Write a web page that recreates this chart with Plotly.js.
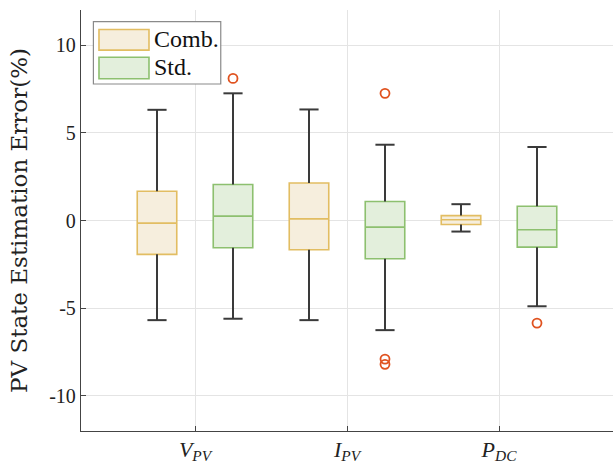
<!DOCTYPE html>
<html>
<head>
<meta charset="utf-8">
<script src="https://cdn.plot.ly/plotly-3.0.1.min.js"></script>
<style>html,body{margin:0;padding:0;background:#fff;}#chart{width:613px;height:463px;}</style>
</head>
<body>
<div id="chart"></div>
<script>
// Categories and tick labels
const categories = ["V_PV", "I_PV", "P_DC"];
const tickLabels = ["<i>V</i><sub><i>PV</i></sub>", "<i>I</i><sub><i>PV</i></sub>", "<i>P</i><sub><i>DC</i></sub>"];
const seriesNames = ["Comb.", "Std."];

// Comb. series statistics
const combLow    = [-5.68, -5.68, -0.63];
const combQ1     = [-1.93, -1.67, -0.23];
const combMedian = [-0.15,  0.09,  0.04];
const combQ3     = [ 1.67,  2.14,  0.28];
const combHigh   = [ 6.31,  6.33,  0.93];
const combOutliers = [[], [], []];

// Std. series statistics
const stdLow    = [-5.60, -6.25, -4.89];
const stdQ1     = [-1.55, -2.18, -1.52];
const stdMedian = [ 0.25, -0.38, -0.53];
const stdQ3     = [ 2.05,  1.08,  0.81];
const stdHigh   = [ 7.25,  4.32,  4.19];
const stdOutliers = [[8.1], [7.25, -7.9, -8.2], [-5.85]];

const yTicks = [-10, -5, 0, 5, 10];
const yTickText = ["-10", "-5", "0", "5", "10"];

const combLine = "#E2BD62", combFill = "#F6EEDD";
const stdLine = "#8DC06F", stdFill = "#E3EFDC";

const offset = 0.25, boxW = 0.26, capHalf = 0.063;
const pos = s => categories.map((_, i) => i + 1 + s * offset);

function boxTrace(name, xs, q1, med, q3, line, fill) {
  return {
    type: "box", name: name, x: xs, q1: q1, median: med, q3: q3,
    lowerfence: q1, upperfence: q3, width: boxW,
    line: {color: line, width: 1.6}, fillcolor: fill,
    hoverinfo: "skip", showlegend: false
  };
}
function whiskerTrace(xs, lo, q1, q3, hi) {
  const x = [], y = [];
  xs.forEach((p, i) => {
    x.push(p, p, null, p, p, null, p - capHalf, p + capHalf, null, p - capHalf, p + capHalf, null);
    y.push(lo[i], q1[i], null, q3[i], hi[i], null, lo[i], lo[i], null, hi[i], hi[i], null);
  });
  return {type: "scatter", mode: "lines", x: x, y: y, line: {color: "#3a3a3a", width: 2},
          showlegend: false, hoverinfo: "skip"};
}
function outlierTrace(xs, outs) {
  const x = [], y = [];
  xs.forEach((p, i) => outs[i].forEach(v => { x.push(p); y.push(v); }));
  return {type: "scatter", mode: "markers", x: x, y: y,
          marker: {symbol: "circle-open", size: 9, color: "#E0521F", line: {width: 1.8}},
          showlegend: false, hoverinfo: "skip"};
}

const xComb = pos(-1), xStd = pos(1);
const data = [
  boxTrace(seriesNames[0], xComb, combQ1, combMedian, combQ3, combLine, combFill),
  boxTrace(seriesNames[1], xStd, stdQ1, stdMedian, stdQ3, stdLine, stdFill),
  whiskerTrace(xComb, combLow, combQ1, combQ3, combHigh),
  whiskerTrace(xStd, stdLow, stdQ1, stdQ3, stdHigh),
  outlierTrace(xComb, combOutliers),
  outlierTrace(xStd, stdOutliers)
];

const font = "Liberation Serif, Times New Roman, serif";

// Legend (drawn as paper-anchored box with wide swatches, like the reference)
const legendShapes = [
  {type: "rect", xref: "paper", yref: "paper", x0: 0.0233, x1: 0.2627, y0: 0.8242, y1: 0.9723,
   line: {color: "#8a8a8a", width: 1.2}, fillcolor: "#ffffff", layer: "above"},
  {type: "rect", xref: "paper", yref: "paper", x0: 0.0338, x1: 0.1278, y0: 0.9046, y1: 0.9536,
   line: {color: combLine, width: 1.6}, fillcolor: combFill, layer: "above"},
  {type: "rect", xref: "paper", yref: "paper", x0: 0.0338, x1: 0.1278, y0: 0.8368, y1: 0.8876,
   line: {color: stdLine, width: 1.6}, fillcolor: stdFill, layer: "above"}
];
const legendTexts = [
  {xref: "paper", yref: "paper", x: 0.1335, y: 0.9311, text: seriesNames[0], showarrow: false,
   xanchor: "left", yanchor: "middle", font: {family: font, size: 24, color: "#111"}},
  {xref: "paper", yref: "paper", x: 0.1335, y: 0.8646, text: seriesNames[1], showarrow: false,
   xanchor: "left", yanchor: "middle", font: {family: font, size: 24, color: "#111"}}
];

const layout = {
  width: 613, height: 463,
  margin: {l: 81, r: 0, t: 10, b: 32},
  paper_bgcolor: "#fff", plot_bgcolor: "#fff",
  boxmode: "overlay",
  font: {family: font, size: 20, color: "#222"},
  xaxis: {
    range: [0.25, 3.75], tickvals: [1, 2, 3], ticktext: tickLabels,
    showgrid: true, gridcolor: "#e4e4e4", gridwidth: 1,
    showline: true, linecolor: "#444", linewidth: 1.2,
    ticks: "inside", ticklen: 5, tickcolor: "#444",
    zeroline: false, tickfont: {family: font, size: 22, color: "#222"},
    ticklabelstandoff: -2
  },
  yaxis: {
    range: [-12, 12], tickvals: yTicks, ticktext: yTickText,
    showgrid: true, gridcolor: "#e4e4e4", gridwidth: 1,
    showline: true, linecolor: "#444", linewidth: 1.2,
    ticks: "inside", ticklen: 5, tickcolor: "#444",
    zeroline: false, tickfont: {family: font, size: 20, color: "#222"},
    title: {text: "PV State Estimation Error(%)", font: {family: "DejaVu Serif, serif", size: 23, color: "#222"}, standoff: 15}
  },
  shapes: legendShapes,
  annotations: legendTexts,
  showlegend: false
};

Plotly.newPlot("chart", data, layout, {displayModeBar: false, staticPlot: true});
</script>
</body>
</html>
